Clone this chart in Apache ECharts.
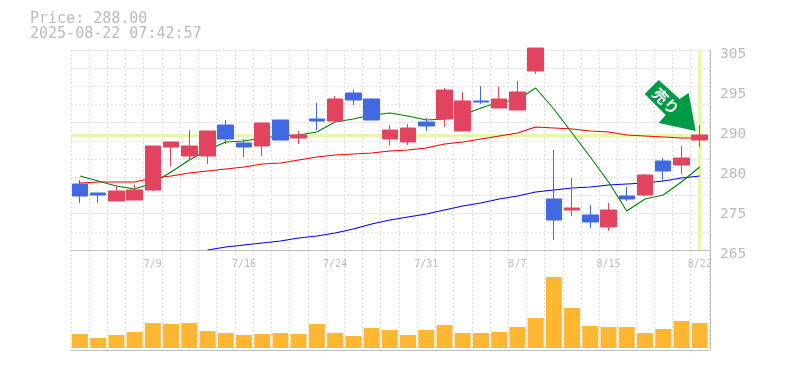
<!DOCTYPE html>
<html>
<head>
<meta charset="utf-8">
<style>html,body{margin:0;padding:0;background:#fff}#c{width:785px;height:370px}</style>
<script src="https://cdn.jsdelivr.net/npm/echarts@6/dist/echarts.min.js"></script>
</head>
<body>
<div id="c"></div>
<script>
const titleText = 'Price: 288.00\n2025-08-22 07:42:57';
const dates = ['7/3','7/4','7/7','7/8','7/9','7/10','7/11','7/14','7/15','7/16','7/17','7/18','7/22','7/23','7/24','7/25','7/28','7/29','7/30','7/31','8/1','8/4','8/5','8/6','8/7','8/8','8/12','8/13','8/14','8/15','8/18','8/19','8/20','8/21','8/22'];
const opens  = [278.2,276.4,274.8,275,277,285.6,283.8,283.8,290,286.4,285.8,291,287.4,291.2,290.8,296.4,295.2,287.2,286.6,290.6,291.2,288.8,294.8,293.4,293,300.8,275.2,273,272,269.6,275.8,276,282.8,282,287];
const closes = [275.8,276,276.8,277,285.8,286.6,285.8,288.8,287.2,285.6,290.4,287,288,290.8,295.2,295,291,289,289.4,289.8,297,294.8,294.6,295.2,296.6,305.4,271,273.4,270.6,273,275.2,280,280.8,283.4,288];
const lows   = [274.4,274.4,274.8,275,276.8,281.8,283.2,282.2,286.2,283.6,283.8,287,286.2,289,290.4,294,291,286,286,288.8,289.6,288.8,294.2,293.4,293,300.2,267,271.8,269.4,268.8,274.8,275.8,278.6,280.2,285.6];
const highs  = [279,276.4,277.8,278,285.8,286.6,289,288.8,291,287.2,290.4,291,288.8,294.4,295.8,297,295.4,290,290.2,291.4,297.4,296.6,297.8,297.6,298.8,305.4,285,279.4,274,274.4,277.6,280.2,283.4,285.8,290];
const ma5  = [279.8,278.8,277.8,277.2,278.4,280.6,283,285,286.6,286.8,287.4,287.8,288,288.6,290.6,291.2,292,292.4,291.8,291,291.2,292,293.4,294.6,295,297.4,293.2,288.4,283.6,278.6,272.8,275.2,276,278.6,281.6];
const ma25 = [278.4,278.6,278.6,278.6,279.4,279.8,280.4,280.8,281.2,281.6,282.2,282.4,283,283.6,284,284.2,284.4,284.8,285,285.4,286.2,286.6,287.2,287.8,288.4,289.6,289.4,289.2,288.8,288.6,288,287.8,287.6,287.4,287.4];
const ma75 = [null,null,null,null,null,null,null,265,265.6,266,266.4,266.8,267.4,267.8,268.4,269.2,270.2,271,271.6,272.2,273,273.8,274.4,275.2,275.8,276.6,277,277.4,277.6,278,278.2,278.4,278.8,279.4,279.8];
const volumes = [42,30,39,48,75,72,75,51,45,39,42,45,42,72,45,36,60,54,39,54,69,45,45,48,63,90,213,120,66,63,63,45,57,81,75];
const priceTickValues = [265,273,281,289,297,305];
const priceTickLabels = ['265','275','280','290','295','305'];
const priceGridValues = Array.from({length:12},(_,i)=>265+i*40/11);
const lastPrice = 288;
const signalLabel = '売り';

const GRAY='#bdbdbd', GRID='#dcdcdc', HL='#e6f7a9', MONO='"DejaVu Sans Mono"';
const frame={lineStyle:{color:GRAY,width:1}};
const chart=echarts.init(document.getElementById('c'),null,{renderer:'canvas'});
chart.setOption({
  animation:false,
  backgroundColor:'#fff',
  title:{text:titleText,left:30,top:12,padding:0,textStyle:{fontFamily:MONO,fontSize:15,fontWeight:'normal',color:'#bbbbbb',lineHeight:15}},
  grid:[{left:70.8,top:50,width:638,height:200},{left:70.8,top:250,width:638,height:100}],
  xAxis:[
    {type:'category',gridIndex:0,data:dates,boundaryGap:true,
      axisLine:{show:true,onZero:false,...frame},axisTick:{show:false},
      axisLabel:{interval:(i)=>i%5===4,margin:9,fontFamily:MONO,fontSize:10,color:'#bbbbbb',hideOverlap:false},
      splitLine:{show:true,interval:0,lineStyle:{color:GRID,type:[2,2],width:1}}},
    {type:'category',gridIndex:1,data:dates,boundaryGap:true,
      axisLine:{show:true,onZero:false,...frame},axisTick:{show:false},axisLabel:{show:false},
      splitLine:{show:true,interval:0,lineStyle:{color:GRID,type:[2,2],width:1}}}
  ],
  yAxis:[
    {type:'value',gridIndex:0,position:'right',offset:1.2,min:265,max:305,scale:true,
      axisLine:{show:true,...frame},
      axisTick:{show:false,customValues:priceGridValues},
      axisLabel:{customValues:priceTickValues,margin:10,fontFamily:MONO,fontSize:14.5,color:'#bbbbbb',
        verticalAlign:'top',lineHeight:8,
        formatter:(v)=>priceTickLabels[priceTickValues.indexOf(v)]},
      splitLine:{show:true,lineStyle:{color:GRID,type:[2,2],width:1}}},
    {type:'value',gridIndex:1,position:'right',offset:1.2,min:-6,max:294,
      axisLine:{show:true,...frame},axisTick:{show:false},axisLabel:{show:false},splitLine:{show:false}}
  ],
  series:[
    {type:'line',name:'MA75',xAxisIndex:0,yAxisIndex:0,data:ma75,z:3,symbol:'none',connectNulls:false,
      lineStyle:{color:'#0000ff',width:1.1},
      markLine:{silent:true,symbol:'none',label:{show:false},z:2,animation:false,
        lineStyle:{color:HL,width:3,type:'solid'},
        data:[{yAxis:lastPrice},{xAxis:dates.length-1}]}},
    {type:'line',name:'MA25',xAxisIndex:0,yAxisIndex:0,data:ma25,z:3,symbol:'none',lineStyle:{color:'#ff0000',width:1.1}},
    {type:'line',name:'MA5',xAxisIndex:0,yAxisIndex:0,data:ma5,z:3,symbol:'none',lineStyle:{color:'#008000',width:1.1}},
    {type:'candlestick',name:'Price',xAxisIndex:0,yAxisIndex:0,z:5,barWidth:16,clip:false,
      data:opens.map((o,i)=>[o,closes[i],lows[i],highs[i]]),
      itemStyle:{color:'#e2445f',color0:'#4169e1',borderColor:'#e2445f',borderColor0:'#4169e1',borderWidth:1},
      markPoint:{silent:true,z:8,animation:false,
        data:[{coord:[dates.length-1,288.8],
          symbol:'path://M14 0L0 14L21 35L14 43L51 51L44 13L35 19Z',symbolSize:[51,51],symbolOffset:[-29.5,-25.5],
          itemStyle:{color:'#009944'},
          label:{show:true,formatter:signalLabel,position:'inside',rotate:-45,offset:[-6,0],color:'#fff',
            fontFamily:'"Noto Sans CJK JP"',fontWeight:'bold',fontSize:15}}]}},
    {type:'bar',name:'Volume',xAxisIndex:1,yAxisIndex:1,data:volumes,barWidth:16,itemStyle:{color:'#ffb733'}}
  ]
});
</script>
</body>
</html>
